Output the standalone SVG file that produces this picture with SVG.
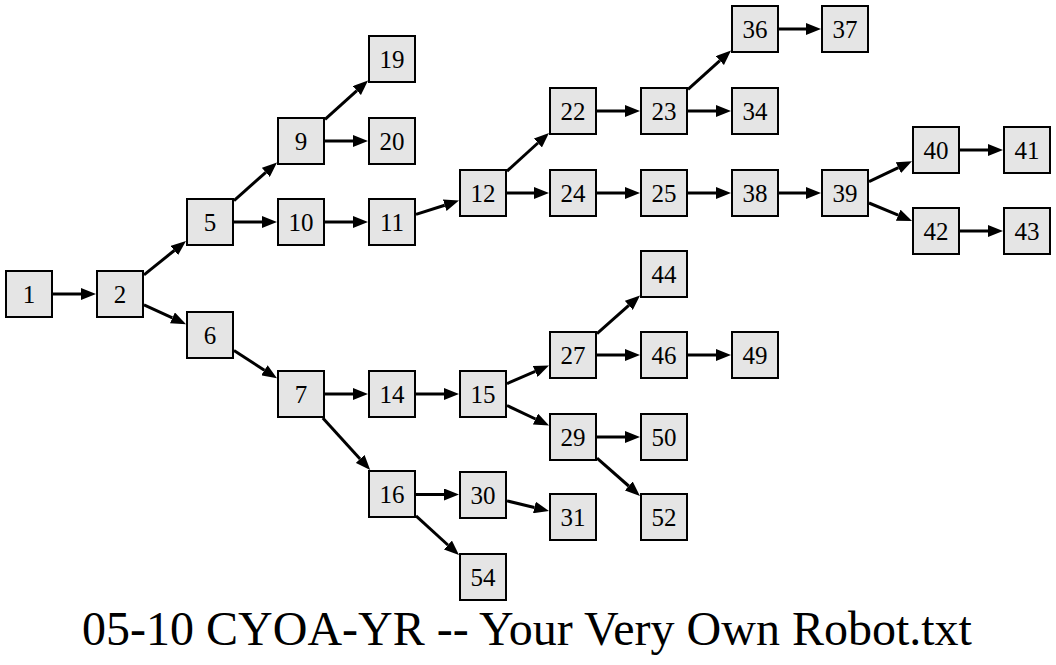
<svg xmlns="http://www.w3.org/2000/svg" width="1056" height="665" viewBox="0 0 1056 665">
<style>
.n rect{fill:#e5e5e5;stroke:#000;stroke-width:2}
.n text{font-family:"Liberation Serif","Times New Roman",serif;font-size:25px;text-anchor:middle;fill:#000}
#edges line{stroke:#000;stroke-width:3;marker-end:url(#ah)}
.title{font-family:"Liberation Serif","Times New Roman",serif;font-size:48px;text-anchor:middle;fill:#000}
</style>
<defs>
<marker id="ah" viewBox="0 -6 15 12" refX="0" refY="0" markerWidth="15" markerHeight="12" markerUnits="userSpaceOnUse" orient="auto">
<path d="M0,-6 L15,0 L0,6 z" fill="#000"/>
</marker>
</defs>
<rect width="1056" height="665" fill="#fff"/>
<g id="edges">
<line x1="53" y1="294" x2="81" y2="294"/>
<line x1="144" y1="274.8" x2="174.3" y2="250.5"/>
<line x1="144" y1="304.9" x2="172.4" y2="317.9"/>
<line x1="234" y1="200.6" x2="265.8" y2="172.4"/>
<line x1="234" y1="222" x2="262" y2="222"/>
<line x1="325" y1="119.4" x2="356.9" y2="90.6"/>
<line x1="325" y1="141" x2="353" y2="141"/>
<line x1="325" y1="222" x2="353" y2="222"/>
<line x1="416" y1="214.4" x2="444.7" y2="205.2"/>
<line x1="507" y1="171.1" x2="537.9" y2="143"/>
<line x1="507" y1="193" x2="534" y2="193"/>
<line x1="597" y1="111" x2="625" y2="111"/>
<line x1="688" y1="89.4" x2="719.9" y2="60.6"/>
<line x1="688" y1="111" x2="716" y2="111"/>
<line x1="779" y1="29" x2="806" y2="29"/>
<line x1="597" y1="193" x2="625" y2="193"/>
<line x1="688" y1="193" x2="716" y2="193"/>
<line x1="779" y1="193" x2="806" y2="193"/>
<line x1="869" y1="181.7" x2="898.4" y2="167.7"/>
<line x1="869" y1="203" x2="898.2" y2="215.2"/>
<line x1="960" y1="150" x2="988" y2="150"/>
<line x1="960" y1="231" x2="988" y2="231"/>
<line x1="234" y1="350.6" x2="264.4" y2="370.2"/>
<line x1="325" y1="394" x2="353" y2="394"/>
<line x1="322.8" y1="418" x2="360.1" y2="458.9"/>
<line x1="416" y1="394" x2="444" y2="394"/>
<line x1="507" y1="383.6" x2="535.2" y2="371.4"/>
<line x1="507" y1="405.5" x2="535.5" y2="419"/>
<line x1="597" y1="333.6" x2="628.8" y2="305.4"/>
<line x1="597" y1="355" x2="625" y2="355"/>
<line x1="688" y1="355" x2="716" y2="355"/>
<line x1="597" y1="437" x2="625" y2="437"/>
<line x1="597" y1="458.1" x2="628.7" y2="486"/>
<line x1="416" y1="494.5" x2="444" y2="494.5"/>
<line x1="416" y1="515.9" x2="447.9" y2="545"/>
<line x1="507" y1="500.9" x2="534.4" y2="507.5"/>
</g>
<g id="n1" class="n"><rect x="6" y="271" width="46" height="46"/><text x="29" y="302.5">1</text></g>
<g id="n2" class="n"><rect x="97" y="271" width="46" height="46"/><text x="120" y="302.5">2</text></g>
<g id="n5" class="n"><rect x="187" y="199" width="46" height="46"/><text x="210" y="230.5">5</text></g>
<g id="n6" class="n"><rect x="187" y="312" width="46" height="46"/><text x="210" y="343.5">6</text></g>
<g id="n9" class="n"><rect x="278" y="118" width="46" height="46"/><text x="301" y="149.5">9</text></g>
<g id="n10" class="n"><rect x="278" y="199" width="46" height="46"/><text x="301" y="230.5">10</text></g>
<g id="n19" class="n"><rect x="369" y="36" width="46" height="46"/><text x="392" y="67.5">19</text></g>
<g id="n20" class="n"><rect x="369" y="118" width="46" height="46"/><text x="392" y="149.5">20</text></g>
<g id="n11" class="n"><rect x="369" y="199" width="46" height="46"/><text x="392" y="230.5">11</text></g>
<g id="n12" class="n"><rect x="460" y="170" width="46" height="46"/><text x="483" y="201.5">12</text></g>
<g id="n22" class="n"><rect x="550" y="88" width="46" height="46"/><text x="573" y="119.5">22</text></g>
<g id="n24" class="n"><rect x="550" y="170" width="46" height="46"/><text x="573" y="201.5">24</text></g>
<g id="n23" class="n"><rect x="641" y="88" width="46" height="46"/><text x="664" y="119.5">23</text></g>
<g id="n36" class="n"><rect x="732" y="6" width="46" height="46"/><text x="755" y="37.5">36</text></g>
<g id="n37" class="n"><rect x="822" y="6" width="46" height="46"/><text x="845" y="37.5">37</text></g>
<g id="n34" class="n"><rect x="732" y="88" width="46" height="46"/><text x="755" y="119.5">34</text></g>
<g id="n25" class="n"><rect x="641" y="170" width="46" height="46"/><text x="664" y="201.5">25</text></g>
<g id="n38" class="n"><rect x="732" y="170" width="46" height="46"/><text x="755" y="201.5">38</text></g>
<g id="n39" class="n"><rect x="822" y="170" width="46" height="46"/><text x="845" y="201.5">39</text></g>
<g id="n40" class="n"><rect x="913" y="127" width="46" height="46"/><text x="936" y="158.5">40</text></g>
<g id="n41" class="n"><rect x="1004" y="127" width="46" height="46"/><text x="1027" y="158.5">41</text></g>
<g id="n42" class="n"><rect x="913" y="208" width="46" height="46"/><text x="936" y="239.5">42</text></g>
<g id="n43" class="n"><rect x="1004" y="208" width="46" height="46"/><text x="1027" y="239.5">43</text></g>
<g id="n7" class="n"><rect x="278" y="371" width="46" height="46"/><text x="301" y="402.5">7</text></g>
<g id="n14" class="n"><rect x="369" y="371" width="46" height="46"/><text x="392" y="402.5">14</text></g>
<g id="n15" class="n"><rect x="460" y="371" width="46" height="46"/><text x="483" y="402.5">15</text></g>
<g id="n16" class="n"><rect x="369" y="471" width="46" height="46"/><text x="392" y="502.5">16</text></g>
<g id="n30" class="n"><rect x="460" y="472" width="46" height="46"/><text x="483" y="503.5">30</text></g>
<g id="n31" class="n"><rect x="550" y="494" width="46" height="46"/><text x="573" y="525.5">31</text></g>
<g id="n54" class="n"><rect x="460" y="554" width="46" height="46"/><text x="483" y="585.5">54</text></g>
<g id="n27" class="n"><rect x="550" y="332" width="46" height="46"/><text x="573" y="363.5">27</text></g>
<g id="n29" class="n"><rect x="550" y="414" width="46" height="46"/><text x="573" y="445.5">29</text></g>
<g id="n44" class="n"><rect x="641" y="251" width="46" height="46"/><text x="664" y="282.5">44</text></g>
<g id="n46" class="n"><rect x="641" y="332" width="46" height="46"/><text x="664" y="363.5">46</text></g>
<g id="n49" class="n"><rect x="732" y="332" width="46" height="46"/><text x="755" y="363.5">49</text></g>
<g id="n50" class="n"><rect x="641" y="414" width="46" height="46"/><text x="664" y="445.5">50</text></g>
<g id="n52" class="n"><rect x="641" y="494" width="46" height="46"/><text x="664" y="525.5">52</text></g>
<text class="title" x="527" y="645">05-10 CYOA-YR -- Your Very Own Robot.txt</text>
</svg>
